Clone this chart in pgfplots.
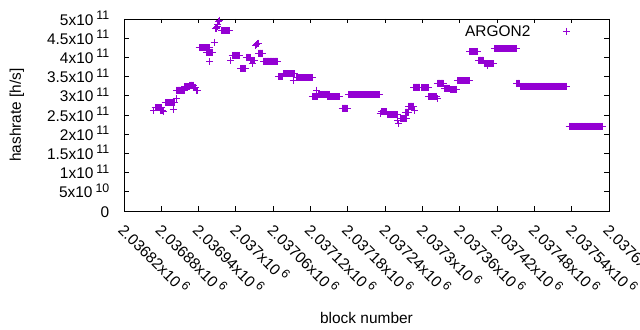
\documentclass[border=0pt]{standalone}
\usepackage{pgfplots}
\usepackage{pgfplotstable}
\pgfplotsset{compat=1.18}
\usepackage{fontspec}
\setmainfont{Liberation Sans}
\definecolor{argon}{RGB}{148,0,211}
\newcommand\sups[1]{\hspace{3bp}\smash{\raisebox{5.7bp}{\fontsize{12.4}{13}\selectfont #1}}}
\newcommand\tlfont{\fontsize{15.5}{18}\selectfont}
\pgfplotstableread{
block hashrate
2036868 2.63e11
2036870 2.695e11
2036871 2.695e11
2036872 2.695e11
2036873 2.695e11
2036874 2.695e11
2036875 2.695e11
2036876 2.695e11
2036877 2.695e11
2036878 2.695e11
2036879 2.695e11
2036880 2.695e11
2036878 2.62e11
2036879 2.62e11
2036880 2.62e11
2036881 2.62e11
2036882 2.62e11
2036883 2.586e11
2036886 2.82e11
2036887 2.82e11
2036888 2.82e11
2036889 2.82e11
2036890 2.82e11
2036891 2.82e11
2036892 2.82e11
2036893 2.82e11
2036894 2.82e11
2036895 2.82e11
2036896 2.82e11
2036897 2.82e11
2036898 2.82e11
2036899 2.82e11
2036900 2.82e11
2036901 2.82e11
2036902 2.82e11
2036899 2.64e11
2036904 2.92e11
2036905 3.15e11
2036906 3.15e11
2036907 3.15e11
2036908 3.15e11
2036909 3.15e11
2036910 3.15e11
2036911 3.15e11
2036912 3.15e11
2036913 3.15e11
2036914 3.15e11
2036915 3.15e11
2036916 3.15e11
2036917 3.15e11
2036918 3.24e11
2036919 3.24e11
2036920 3.24e11
2036921 3.24e11
2036922 3.24e11
2036923 3.24e11
2036924 3.24e11
2036925 3.24e11
2036926 3.28e11
2036927 3.28e11
2036928 3.28e11
2036929 3.28e11
2036930 3.28e11
2036931 3.28e11
2036932 3.22e11
2036933 3.22e11
2036934 3.22e11
2036935 3.22e11
2036936 3.13e11
2036937 3.13e11
2036938 3.13e11
2036939 3.13e11
2036941 4.245e11
2036942 4.245e11
2036943 4.245e11
2036944 4.245e11
2036945 4.245e11
2036946 4.245e11
2036947 4.245e11
2036948 4.245e11
2036949 4.245e11
2036950 4.245e11
2036951 4.245e11
2036952 4.245e11
2036953 4.245e11
2036954 4.245e11
2036955 4.245e11
2036956 4.245e11
2036957 4.245e11
2036953 4.14e11
2036954 4.14e11
2036955 4.14e11
2036956 4.14e11
2036957 4.14e11
2036958 4.14e11
2036959 4.14e11
2036960 4.14e11
2036961 4.14e11
2036962 4.14e11
2036963 4.14e11
2036958 3.89e11
2036965 4.39e11
2036967 4.76e11
2036968 4.76e11
2036969 4.78e11
2036970 4.80e11
2036971 4.86e11
2036972 4.93e11
2036973 4.97e11
2036976 4.69e11
2036977 4.69e11
2036978 4.69e11
2036979 4.69e11
2036980 4.69e11
2036981 4.69e11
2036982 4.69e11
2036983 4.69e11
2036984 4.69e11
2036985 4.69e11
2036986 4.69e11
2036987 4.69e11
2036988 4.69e11
2036989 4.69e11
2036992 3.91e11
2036994 4.05e11
2036995 4.05e11
2036996 4.05e11
2036997 4.05e11
2036998 4.05e11
2036999 4.05e11
2037000 4.05e11
2037001 4.05e11
2037002 4.05e11
2037003 4.05e11
2037004 4.05e11
2037005 4.05e11
2037006 4.05e11
2037008 3.71e11
2037009 3.71e11
2037010 3.71e11
2037011 3.71e11
2037012 3.71e11
2037013 3.71e11
2037014 3.71e11
2037015 3.71e11
2037016 3.71e11
2037017 4.00e11
2037018 4.00e11
2037019 4.00e11
2037020 4.00e11
2037021 4.00e11
2037022 4.00e11
2037023 4.00e11
2037024 3.92e11
2037025 3.92e11
2037026 3.92e11
2037027 3.92e11
2037028 3.92e11
2037029 3.92e11
2037030 3.92e11
2037026 3.85e11
2037032 4.30e11
2037033 4.33e11
2037034 4.35e11
2037035 4.36e11
2037036 4.37e11
2037037 4.11e11
2037038 4.11e11
2037039 4.11e11
2037040 4.11e11
2037041 4.11e11
2037042 4.11e11
2037043 4.11e11
2037045 3.906e11
2037046 3.906e11
2037047 3.906e11
2037048 3.906e11
2037049 3.906e11
2037050 3.906e11
2037051 3.906e11
2037052 3.906e11
2037053 3.906e11
2037054 3.906e11
2037055 3.906e11
2037056 3.906e11
2037057 3.906e11
2037058 3.906e11
2037059 3.906e11
2037060 3.906e11
2037061 3.906e11
2037062 3.906e11
2037063 3.906e11
2037064 3.906e11
2037065 3.906e11
2037066 3.906e11
2037067 3.906e11
2037069 3.49e11
2037070 3.49e11
2037071 3.49e11
2037072 3.49e11
2037073 3.49e11
2037074 3.49e11
2037075 3.49e11
2037077 3.568e11
2037078 3.568e11
2037079 3.568e11
2037080 3.568e11
2037081 3.568e11
2037082 3.568e11
2037083 3.568e11
2037084 3.568e11
2037085 3.568e11
2037086 3.568e11
2037087 3.568e11
2037088 3.568e11
2037089 3.568e11
2037090 3.568e11
2037091 3.568e11
2037092 3.568e11
2037093 3.568e11
2037094 3.568e11
2037095 3.568e11
2037092 3.39e11
2037097 3.464e11
2037098 3.464e11
2037099 3.464e11
2037100 3.464e11
2037101 3.464e11
2037102 3.464e11
2037103 3.464e11
2037104 3.464e11
2037105 3.464e11
2037106 3.464e11
2037107 3.464e11
2037108 3.464e11
2037109 3.464e11
2037110 3.464e11
2037111 3.464e11
2037112 3.464e11
2037113 3.464e11
2037114 3.464e11
2037115 3.464e11
2037116 3.464e11
2037117 3.464e11
2037118 3.464e11
2037119 3.464e11
2037120 3.464e11
2037121 3.464e11
2037122 3.464e11
2037123 3.464e11
2037123 2.969e11
2037124 2.969e11
2037125 2.969e11
2037126 2.969e11
2037127 2.969e11
2037128 2.969e11
2037129 2.969e11
2037130 2.969e11
2037131 2.969e11
2037130 3.15e11
2037133 3.034e11
2037134 3.034e11
2037135 3.034e11
2037136 3.034e11
2037137 3.034e11
2037138 3.034e11
2037139 3.034e11
2037140 3.034e11
2037141 3.034e11
2037142 3.034e11
2037143 3.034e11
2037144 3.034e11
2037145 3.034e11
2037146 3.034e11
2037147 3.034e11
2037148 3.034e11
2037149 3.034e11
2037150 3.034e11
2037151 3.034e11
2037147 2.977e11
2037148 2.977e11
2037149 2.977e11
2037150 2.977e11
2037151 2.977e11
2037152 2.977e11
2037153 2.977e11
2037154 2.977e11
2037155 2.977e11
2037156 2.977e11
2037157 2.977e11
2037158 2.977e11
2037159 2.977e11
2037160 2.977e11
2037161 2.977e11
2037162 2.977e11
2037163 2.977e11
2037164 2.977e11
2037165 2.977e11
2037166 2.977e11
2037167 2.977e11
2037171 2.682e11
2037172 2.682e11
2037173 2.682e11
2037174 2.682e11
2037175 2.682e11
2037176 2.682e11
2037177 2.682e11
2037178 2.682e11
2037179 2.682e11
2037181 3.021e11
2037182 3.021e11
2037183 3.021e11
2037184 3.021e11
2037185 3.021e11
2037186 3.021e11
2037187 3.021e11
2037188 3.021e11
2037189 3.021e11
2037190 3.021e11
2037191 3.021e11
2037192 3.021e11
2037193 3.021e11
2037194 3.021e11
2037195 3.021e11
2037196 3.021e11
2037197 3.021e11
2037198 3.021e11
2037199 3.021e11
2037200 3.021e11
2037201 3.021e11
2037202 3.021e11
2037203 3.021e11
2037204 3.021e11
2037205 3.021e11
2037206 3.021e11
2037207 3.021e11
2037208 3.021e11
2037209 3.021e11
2037210 3.021e11
2037211 3.021e11
2037212 3.021e11
2037213 3.021e11
2037214 3.021e11
2037215 3.021e11
2037216 3.021e11
2037217 3.021e11
2037218 3.021e11
2037219 3.021e11
2037220 3.021e11
2037221 3.021e11
2037222 3.021e11
2037223 3.021e11
2037224 3.021e11
2037225 3.021e11
2037226 3.021e11
2037227 3.021e11
2037228 3.021e11
2037229 3.021e11
2037230 3.021e11
2037231 3.021e11
2037232 2.55e11
2037234 2.591e11
2037235 2.591e11
2037236 2.591e11
2037237 2.591e11
2037238 2.591e11
2037239 2.591e11
2037240 2.591e11
2037241 2.591e11
2037242 2.591e11
2037244 2.513e11
2037245 2.513e11
2037246 2.513e11
2037247 2.513e11
2037248 2.513e11
2037249 2.513e11
2037250 2.513e11
2037251 2.513e11
2037252 2.513e11
2037253 2.513e11
2037254 2.513e11
2037255 2.513e11
2037256 2.513e11
2037257 2.513e11
2037258 2.513e11
2037259 2.513e11
2037260 2.513e11
2037260 2.35e11
2037262 2.284e11
2037264 2.396e11
2037265 2.396e11
2037266 2.396e11
2037267 2.396e11
2037268 2.396e11
2037269 2.396e11
2037270 2.396e11
2037271 2.396e11
2037272 2.396e11
2037273 2.396e11
2037274 2.396e11
2037272 2.578e11
2037273 2.578e11
2037274 2.578e11
2037275 2.578e11
2037276 2.578e11
2037277 2.578e11
2037278 2.578e11
2037278 2.734e11
2037279 2.734e11
2037280 2.734e11
2037281 2.734e11
2037282 2.734e11
2037283 2.734e11
2037284 2.734e11
2037285 2.734e11
2037286 2.734e11
2037288 2.62e11
2037286 3.229e11
2037287 3.229e11
2037288 3.229e11
2037289 3.229e11
2037290 3.229e11
2037291 3.229e11
2037292 3.229e11
2037293 3.229e11
2037294 3.229e11
2037295 3.229e11
2037296 3.229e11
2037298 3.216e11
2037299 3.216e11
2037300 3.216e11
2037301 3.216e11
2037302 3.216e11
2037303 3.216e11
2037304 3.216e11
2037305 3.216e11
2037306 3.216e11
2037307 3.216e11
2037308 3.216e11
2037309 3.216e11
2037310 3.216e11
2037310 2.977e11
2037311 2.977e11
2037312 2.977e11
2037313 2.977e11
2037314 2.977e11
2037315 2.977e11
2037316 2.977e11
2037317 2.977e11
2037318 2.977e11
2037319 2.977e11
2037320 2.977e11
2037321 2.977e11
2037322 2.977e11
2037324 2.92e11
2037324 3.333e11
2037325 3.333e11
2037326 3.333e11
2037327 3.333e11
2037328 3.333e11
2037329 3.333e11
2037330 3.333e11
2037331 3.333e11
2037332 3.333e11
2037333 3.333e11
2037334 3.333e11
2037336 3.20e11
2037337 3.20e11
2037338 3.20e11
2037339 3.20e11
2037340 3.20e11
2037341 3.20e11
2037342 3.20e11
2037343 3.20e11
2037344 3.20e11
2037345 3.16e11
2037346 3.16e11
2037347 3.16e11
2037348 3.16e11
2037349 3.16e11
2037350 3.16e11
2037351 3.16e11
2037352 3.16e11
2037353 3.16e11
2037354 3.16e11
2037356 3.398e11
2037357 3.398e11
2037358 3.398e11
2037359 3.398e11
2037360 3.398e11
2037361 3.398e11
2037362 3.398e11
2037363 3.398e11
2037364 3.398e11
2037365 3.398e11
2037366 3.398e11
2037367 3.398e11
2037368 3.398e11
2037369 3.398e11
2037370 3.398e11
2037371 3.398e11
2037372 3.398e11
2037373 3.398e11
2037374 3.398e11
2037375 3.398e11
2037376 3.398e11
2037376 4.141e11
2037377 4.141e11
2037378 4.141e11
2037379 4.141e11
2037380 4.141e11
2037381 4.141e11
2037382 4.141e11
2037383 4.141e11
2037384 4.141e11
2037385 4.141e11
2037386 4.141e11
2037387 4.141e11
2037388 4.141e11
2037390 3.932e11
2037391 3.932e11
2037392 3.932e11
2037393 3.932e11
2037394 3.932e11
2037395 3.932e11
2037396 3.932e11
2037397 3.932e11
2037398 3.932e11
2037400 3.841e11
2037401 3.841e11
2037402 3.841e11
2037403 3.841e11
2037404 3.841e11
2037405 3.841e11
2037406 3.841e11
2037407 3.841e11
2037408 3.841e11
2037409 3.841e11
2037410 3.841e11
2037411 3.841e11
2037412 3.841e11
2037413 3.841e11
2037414 3.841e11
2037404 3.78e11
2037416 4.219e11
2037417 4.219e11
2037418 4.219e11
2037419 4.219e11
2037420 4.219e11
2037421 4.219e11
2037422 4.219e11
2037423 4.219e11
2037424 4.219e11
2037425 4.219e11
2037426 4.219e11
2037427 4.219e11
2037428 4.219e11
2037429 4.219e11
2037430 4.219e11
2037431 4.219e11
2037432 4.219e11
2037433 4.219e11
2037434 4.219e11
2037435 4.219e11
2037436 4.219e11
2037437 4.219e11
2037438 4.219e11
2037439 4.219e11
2037440 4.219e11
2037441 4.219e11
2037442 4.219e11
2037443 4.219e11
2037444 4.219e11
2037445 4.219e11
2037446 4.219e11
2037447 4.219e11
2037448 4.219e11
2037449 4.219e11
2037450 4.219e11
2037451 4.219e11
2037452 4.219e11
2037452 3.33e11
2037453 3.33e11
2037454 3.33e11
2037455 3.33e11
2037456 3.33e11
2037458 3.247e11
2037459 3.247e11
2037460 3.247e11
2037461 3.247e11
2037462 3.247e11
2037463 3.247e11
2037464 3.247e11
2037465 3.247e11
2037466 3.247e11
2037467 3.247e11
2037468 3.247e11
2037469 3.247e11
2037470 3.247e11
2037471 3.247e11
2037472 3.247e11
2037473 3.247e11
2037474 3.247e11
2037475 3.247e11
2037476 3.247e11
2037477 3.247e11
2037478 3.247e11
2037479 3.247e11
2037480 3.247e11
2037481 3.247e11
2037482 3.247e11
2037483 3.247e11
2037484 3.247e11
2037485 3.247e11
2037486 3.247e11
2037487 3.247e11
2037488 3.247e11
2037489 3.247e11
2037490 3.247e11
2037491 3.247e11
2037492 3.247e11
2037493 3.247e11
2037494 3.247e11
2037495 3.247e11
2037496 3.247e11
2037497 3.247e11
2037498 3.247e11
2037499 3.247e11
2037500 3.247e11
2037501 3.247e11
2037502 3.247e11
2037503 3.247e11
2037504 3.247e11
2037505 3.247e11
2037506 3.247e11
2037507 3.247e11
2037508 3.247e11
2037509 3.247e11
2037510 3.247e11
2037511 3.247e11
2037512 3.247e11
2037513 3.247e11
2037514 3.247e11
2037515 3.247e11
2037516 3.247e11
2037517 3.247e11
2037518 3.247e11
2037519 3.247e11
2037520 3.247e11
2037521 3.247e11
2037522 3.247e11
2037523 3.247e11
2037524 3.247e11
2037525 3.247e11
2037526 3.247e11
2037527 3.247e11
2037528 3.247e11
2037529 3.247e11
2037530 3.247e11
2037531 3.247e11
2037532 3.247e11
2037536 2.206e11
2037537 2.206e11
2037538 2.206e11
2037539 2.206e11
2037540 2.206e11
2037541 2.206e11
2037542 2.206e11
2037543 2.206e11
2037544 2.206e11
2037545 2.206e11
2037546 2.206e11
2037547 2.206e11
2037548 2.206e11
2037549 2.206e11
2037550 2.206e11
2037551 2.206e11
2037552 2.206e11
2037553 2.206e11
2037554 2.206e11
2037555 2.206e11
2037556 2.206e11
2037557 2.206e11
2037558 2.206e11
2037559 2.206e11
2037560 2.206e11
2037561 2.206e11
2037562 2.206e11
2037563 2.206e11
2037564 2.206e11
2037565 2.206e11
2037566 2.206e11
2037567 2.206e11
2037568 2.206e11
2037569 2.206e11
2037570 2.206e11
2037571 2.206e11
2037572 2.206e11
2037573 2.206e11
2037574 2.206e11
2037575 2.206e11
2037576 2.206e11
2037577 2.206e11
2037578 2.206e11
2037579 2.206e11
2037580 2.206e11
2037581 2.206e11
2037582 2.206e11
2037583 2.206e11
2037584 2.206e11
2037585 2.206e11
2037586 2.206e11
2037587 2.206e11
2037588 2.206e11
2037589 2.206e11
2037590 2.206e11
}\argondata
% exact integer offset from block 2036000 (TeX floats cannot resolve single blocks at 2e6)
\pgfplotstablecreatecol[create col/assign/.code={%
    \getthisrow{block}\blk
    \edef\entry{\the\numexpr\blk-2036000\relax}%
    \pgfkeyslet{/pgfplots/table/create col/next content}\entry
  }]{off}\argondata
\begin{document}
\begin{tikzpicture}
\useasboundingbox (0,0) rectangle (640bp,330bp);
\begin{axis}[
  at={(124bp,119bp)}, anchor=south west,
  scale only axis, width=485bp, height=192bp,
  xmin=820, xmax=1600, ymin=0, ymax=5e11,
  axis line style={line width=0.9bp},
  every tick/.style={line width=0.9bp, black},
  tick align=inside, major tick length=4.5bp,
  xtick={820,880,940,1000,1060,1120,1180,1240,1300,1360,1420,1480,1540,1600},
  xticklabels={2.03682x10\sups{6},2.03688x10\sups{6},2.03694x10\sups{6},2.037x10\sups{6},2.03706x10\sups{6},2.03712x10\sups{6},2.03718x10\sups{6},2.03724x10\sups{6},2.0373x10\sups{6},2.03736x10\sups{6},2.03742x10\sups{6},2.03748x10\sups{6},2.03754x10\sups{6},2.0376x10\sups{6}},
  ytick={0,5e10,1e11,1.5e11,2e11,2.5e11,3e11,3.5e11,4e11,4.5e11,5e11},
  yticklabels={0,5x10\sups{10},1x10\sups{11},1.5x10\sups{11},2x10\sups{11},2.5x10\sups{11},3x10\sups{11},3.5x10\sups{11},4x10\sups{11},4.5x10\sups{11},5x10\sups{11}},
  tick label style={font=\tlfont},
  yticklabel style={font=\tlfont, anchor=east, inner sep=0pt, xshift=-14.5bp, yshift=-0.8bp},
  xticklabel style={font=\tlfont, yshift=-12.5bp, xshift=1bp, rotate=-45, anchor=north west, inner sep=0pt},
  scaled ticks=false,
  every axis x label/.style={at={(rel axis cs:0.5,0)}, yshift=-107bp, anchor=center, font=\tlfont},
  every axis y label/.style={at={(rel axis cs:0,0.5)}, xshift=-107bp, rotate=90, anchor=center, font=\tlfont},
  xlabel={block number},
  ylabel={hashrate [h/s]},
  legend style={draw=none, fill=none, inner sep=0pt, nodes={inner sep=0pt}, column sep=0pt,
    at={(rel axis cs:0.7031,0.935)}, anchor=west, font=\tlfont, legend plot pos=right},
  legend image code/.code={\path[draw=none, fill=none] (0bp,-3.5bp) rectangle (40bp,3.5bp); \draw[#1, mark repeat=2, mark phase=2] plot coordinates {(0bp,0bp)(36bp,0bp)(72bp,0bp)};},
  clip=false,
]
\addplot[only marks, mark=+, color=argon, mark size=3.5bp, mark options={line width=1bp}] table[x=off, y=hashrate] {\argondata};
\addlegendentry{ARGON2}
\end{axis}
\end{tikzpicture}
\end{document}
